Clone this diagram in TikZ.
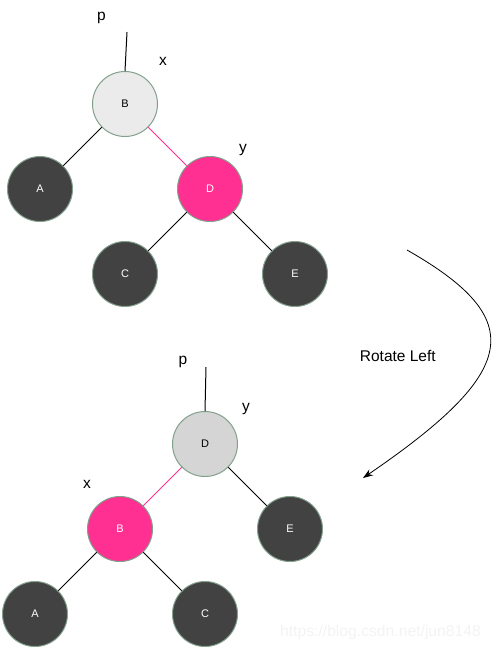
\documentclass[tikz,border=0pt]{standalone}
\usepackage{fontspec}
\setmainfont{Liberation Sans}
\usetikzlibrary{arrows.meta}
\definecolor{cBorder}{RGB}{130,160,140}
\definecolor{cDark}{RGB}{66,66,66}
\definecolor{cPink}{RGB}{255,48,145}
\definecolor{cLight}{RGB}{235,235,235}
\definecolor{cGrey}{RGB}{213,213,213}
\definecolor{cMark}{RGB}{243,243,243}
\tikzset{
    rbnode/.style={circle, draw=cBorder, line width=1pt, minimum size=65pt,
        inner sep=0pt, font=\fontsize{11}{13}\selectfont},
    blknode/.style={rbnode, fill=cDark, text=white},
    rednode/.style={rbnode, fill=cPink, text=white},
    topnode/.style={rbnode, fill=#1, text=black},
    topnode/.default={cLight},
    link/.style={line width=1pt, #1},
    link/.default={black},
    tag/.style={font=\fontsize{15.5}{18}\selectfont, anchor=base, inner sep=0pt},
}

\begin{document}
\begin{tikzpicture}[x=1pt, y=-1pt]
\useasboundingbox (0,0) rectangle (491,649);

% ================================================================
%  TOP — tree before the rotation
% ================================================================
\node[topnode] (tB) at (125,104) {B};
\node[blknode] (tA) at (40,189)  {A};
\node[rednode] (tD) at (210,189) {D};
\node[blknode] (tC) at (125,274) {C};
\node[blknode] (tE) at (295,274) {E};

% parent link
\coordinate (tP) at (127,32);
\draw[link] (tP) -- (tB.north);

\draw[link]       (tB) -- (tA);
\draw[link=cPink] (tB) -- (tD);
\draw[link]       (tD) -- (tC);
\draw[link]       (tD) -- (tE);

\node[tag] (tpLbl) at (101.5,20.5) {p};
\node[tag] (txLbl) at (163,65.5)   {x};
\node[tag] (tyLbl) at (243,152)    {y};

% ================================================================
%  ARROW — rotate left
% ================================================================
\coordinate (rotS) at (407,250);
\coordinate (rotE) at (363,478);
\draw[line width=0.8pt, -{Stealth[length=10pt,width=7pt]}]
    (rotS) .. controls (530,320) and (518,372) .. (rotE);
\node[tag] (rotLbl) at (397.8,361.3) {Rotate Left};

% ================================================================
%  BOTTOM — tree after the rotation
% ================================================================
\node[topnode=cGrey] (bD) at (205,444) {D};
\node[rednode] (bB) at (120,529) {B};
\node[blknode] (bE) at (290,529) {E};
\node[blknode] (bA) at (35,614)  {A};
\node[blknode] (bC) at (205,614) {C};

% parent link
\coordinate (bP) at (206,367);
\draw[link] (bP) -- (bD.north);

\draw[link=cPink] (bD) -- (bB);
\draw[link]       (bD) -- (bE);
\draw[link]       (bB) -- (bA);
\draw[link]       (bB) -- (bC);

\node[tag] (bpLbl) at (183,364.7) {p};
\node[tag] (byLbl) at (246,411.5) {y};
\node[tag] (bxLbl) at (87,488.5)  {x};

% watermark
\node[tag, text=cMark, font=\fontsize{15.7}{18}\selectfont] (mark)
    at (380.5,636.5) {https://blog.csdn.net/jun8148};

\end{tikzpicture}
\end{document}
